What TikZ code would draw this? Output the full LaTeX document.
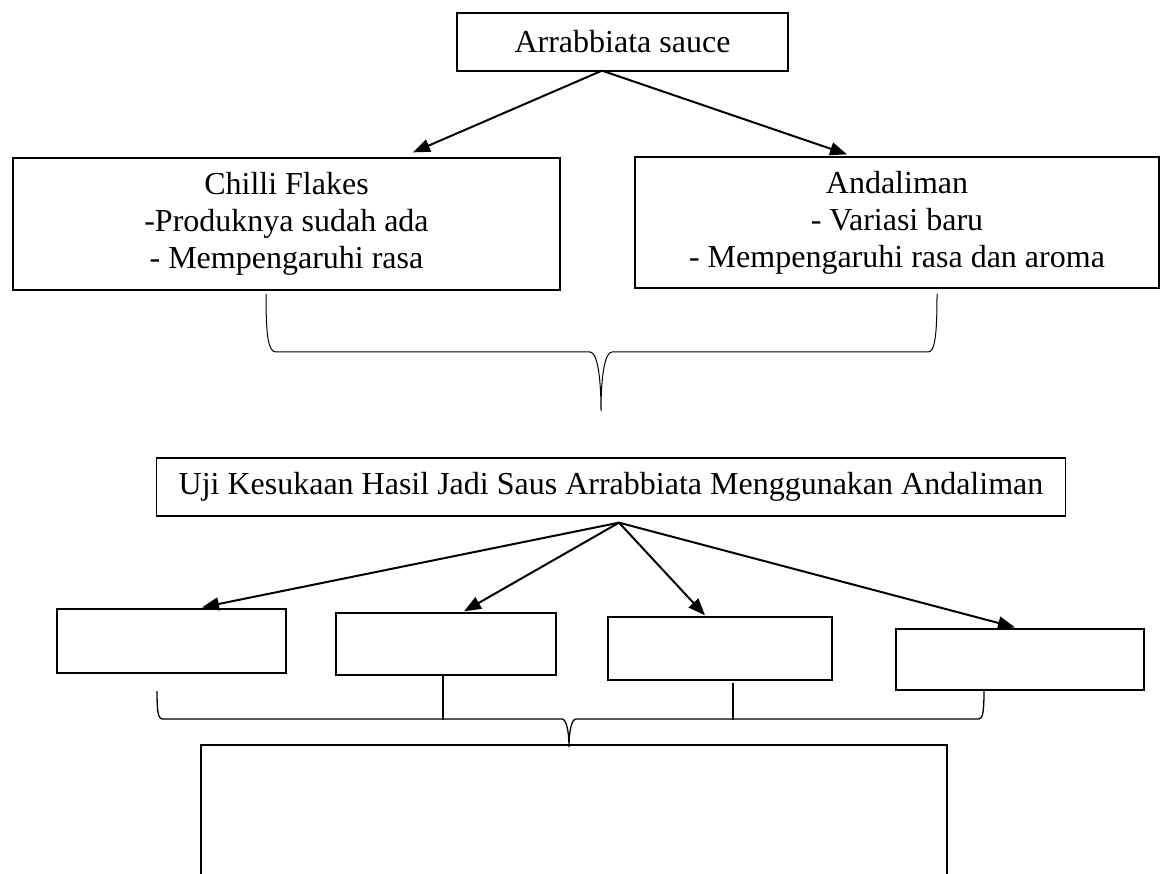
\documentclass[tikz,border=0pt]{standalone}
\usepackage{fontspec}
\setmainfont{Liberation Serif}
\usetikzlibrary{arrows.meta,calc}
\begin{document}
\begin{tikzpicture}[x=1pt,y=-1pt,
  box/.style={draw, line width=1.3pt, inner sep=0pt, align=center,
    font=\fontsize{32}{37}\selectfont},
  arr/.style={line width=2pt, -{Triangle[length=17pt,width=13pt]}},
  brace/.style={line width=1pt}]
\useasboundingbox (0,0) rectangle (1162,874);
\clip (0,0) rectangle (1162,874);
\fill[white] (0,0) rectangle (1162,874);

% top row
\node[box, minimum width=331pt, minimum height=58pt] (top) at (622.5,42) {Arrabbiata sauce};
\node[box, minimum width=547pt, minimum height=132pt] (chilli) at (286.5,224)
  {Chilli Flakes\\-Produknya sudah ada\\- Mempengaruhi rasa};
\node[box, minimum width=524pt, minimum height=131pt] (andal) at (897,222.5)
  {Andaliman\\- Variasi baru\\- Mempengaruhi rasa dan aroma};

\coordinate (o1) at ($(top.south)+(-20.5,-1)$);
\draw[arr] (o1) -- ($(chilli.north)+(126.5,-5)$);
\draw[arr] (o1) -- ($(andal.north)+(-50,-2)$);

% first brace
\draw[brace] (266,294) .. controls (266,335) and (268,352) .. (276,352) -- (590,352)
  .. controls (597,352) and (601,375) .. (601,411)
  .. controls (601,375) and (605,352) .. (612,352) -- (928,352)
  .. controls (935,352) and (937,335) .. (937,294);

% middle box
\node[box, inner xsep=22pt, minimum height=58pt, anchor=west] (uji) at (156,487)
  {Uji Kesukaan Hasil Jadi Saus Arrabbiata Menggunakan Andaliman};

% lower boxes
\node[box, minimum width=229pt, minimum height=64pt] (b1) at (171.5,641) {};
\node[box, minimum width=220pt, minimum height=62pt] (b2) at (446,644) {};
\node[box, minimum width=224pt, minimum height=63pt] (b3) at (720,648.5) {};
\node[box, minimum width=248pt, minimum height=61pt] (b4) at (1020,659.5) {};

\coordinate (o2) at ($(uji.south west)+(463,6)$);
\draw[arr] (o2) -- ($(b1.north)+(30.5,-1)$);
\draw[arr] (o2) -- ($(b2.north)+(18,-1)$);
\draw[arr] (o2) -- ($(b3.north)+(-15,-1)$);
\draw[arr] (o2) -- ($(b4.north)+(-5,-1)$);

% second brace
\draw[line width=1.3pt] (157,691) .. controls (157,710) and (158,719) .. (162,719) -- (562,719)
  .. controls (566,719) and (569,730) .. (569,747)
  .. controls (569,730) and (572,719) .. (576,719) -- (979,719)
  .. controls (983,719) and (984,710) .. (984,690);
\draw[line width=1.3pt] ($(b2.south)+(-3,0)$) -- ++(0,44);
\draw[line width=1.3pt] ($(b3.south)+(13,2)$) -- ++(0,37);

% bottom box (continues past the page)
\node[box, minimum width=746pt, minimum height=200pt] (result) at (574,845) {};
\end{tikzpicture}
\end{document}
